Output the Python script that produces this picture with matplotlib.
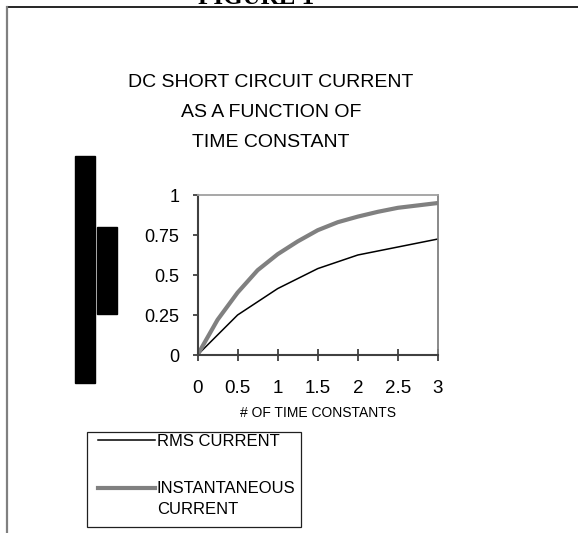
import numpy as np
import matplotlib
matplotlib.use("Agg")
import matplotlib.pyplot as plt
from matplotlib.patches import Rectangle
from matplotlib.lines import Line2D
from matplotlib.legend_handler import HandlerLine2D

# data
t_inst = [0, 0.25, 0.5, 0.75, 1.0, 1.25, 1.5, 1.75, 2.0, 2.25, 2.5, 2.75, 3.0]
i_inst = [0, 0.22, 0.39, 0.53, 0.63, 0.71, 0.78, 0.83, 0.865, 0.895, 0.92, 0.935, 0.95]
t_rms = [0, 0.5, 1.0, 1.5, 2.0, 2.5, 3.0]
i_rms = [0, 0.25, 0.415, 0.54, 0.625, 0.675, 0.725]
x_ticks = [0, 0.5, 1, 1.5, 2, 2.5, 3]
y_ticks = [0, 0.25, 0.5, 0.75, 1]
x_ticklabels = ["0", "0.5", "1", "1.5", "2", "2.5", "3"]
y_ticklabels = ["0", "0.25", "0.5", "0.75", "1"]
title_lines = ["DC SHORT CIRCUIT CURRENT", "AS A FUNCTION OF", "TIME CONSTANT"]

W, H = 578, 533
plt.rcParams['font.family'] = ['Liberation Sans', 'DejaVu Sans']


class TopAligned(HandlerLine2D):
    # put the handle on the first line of a two-line label
    def __init__(self, dy=0, **kw):
        super().__init__(**kw)
        self.dy = dy

    def create_artists(self, legend, orig_handle, xdescent, ydescent, width,
                       height, fontsize, trans):
        arts = super().create_artists(legend, orig_handle, xdescent, ydescent,
                                      width, height, fontsize, trans)
        for a in arts:
            a.set_ydata(np.asarray(a.get_ydata()) + self.dy)
        return arts


def fx(px):
    return px / W


def fy(py):
    return 1 - py / H


fig = plt.figure(figsize=(W / 100, H / 100), dpi=100)
fig.patch.set_facecolor("white")

# page frame and cut-off caption
fig.add_artist(Line2D([fx(6.7), 1], [fy(6.7), fy(6.7)], color="black", lw=1.2,
                      transform=fig.transFigure))
fig.add_artist(Line2D([fx(6.7), fx(6.7)], [fy(6.7), 0], color="#808080", lw=1.6,
                      transform=fig.transFigure))
fig.text(fx(256), fy(3.5), "FIGURE 1", family="Liberation Serif", weight="bold",
         size=18, ha="center", va="baseline")

# redaction marks
fig.add_artist(Rectangle((fx(75), fy(383)), fx(95) - fx(75), fy(156) - fy(383),
                         color="black", transform=fig.transFigure))
fig.add_artist(Rectangle((fx(96.7), fy(314)), fx(116.7) - fx(96.7), fy(227) - fy(314),
                         color="black", transform=fig.transFigure))

# title
for line, base in zip(title_lines, [87, 116.7, 146.7]):
    fig.text(fx(271), fy(base), line, size=14, ha="center", va="baseline")

ax = fig.add_axes([fx(197.5), fy(355), fx(438) - fx(197.5), fy(195) - fy(355)])
l_rms, = ax.plot(t_rms, i_rms, color="black", lw=1.1, label="RMS CURRENT")
l_inst, = ax.plot(t_inst, i_inst, color="#808080", lw=3.0,
                  label="INSTANTANEOUS\nCURRENT")

ax.set_xlim(0, 3)
ax.set_ylim(0, 1)
ax.set_xticks(x_ticks)
ax.set_xticklabels(x_ticklabels)
ax.set_yticks(y_ticks)
ax.set_yticklabels(y_ticklabels)
ax.tick_params(axis="x", direction="inout", length=8.5, width=1.2, pad=13.5,
               labelsize=13.5, colors="#303030", labelcolor="black")
ax.tick_params(axis="y", direction="out", length=3.6, width=1.2, pad=9.5,
               labelsize=13, colors="#303030", labelcolor="black")
ax.set_xlabel("# OF TIME CONSTANTS", fontsize=10, labelpad=7)

ax.spines["left"].set_color("#404040")
ax.spines["bottom"].set_color("#404040")
ax.spines["left"].set_linewidth(1.5)
ax.spines["bottom"].set_linewidth(1.5)
ax.spines["top"].set_color("#a0a0a0")
ax.spines["right"].set_color("#808080")
ax.spines["top"].set_linewidth(1.3)
ax.spines["right"].set_linewidth(1.3)

# legend with its own box
fig.add_artist(Rectangle((fx(86.7), fy(526.7)), fx(300.5) - fx(86.7), fy(431.7) - fy(526.7),
                         fill=False, edgecolor="#202020", lw=0.9,
                         transform=fig.transFigure))
leg = ax.legend(handles=[l_rms, l_inst], loc="upper left",
                bbox_to_anchor=(fx(97.7), fy(434)), bbox_transform=fig.transFigure,
                frameon=False, borderpad=0, borderaxespad=0, fontsize=12,
                handlelength=3.44, handletextpad=0.1, labelspacing=1.9,
                handler_map={l_inst: TopAligned(dy=7.9)})
leg.get_texts()[1].set_linespacing(1.5)

fig.savefig("out.png", dpi=100)
